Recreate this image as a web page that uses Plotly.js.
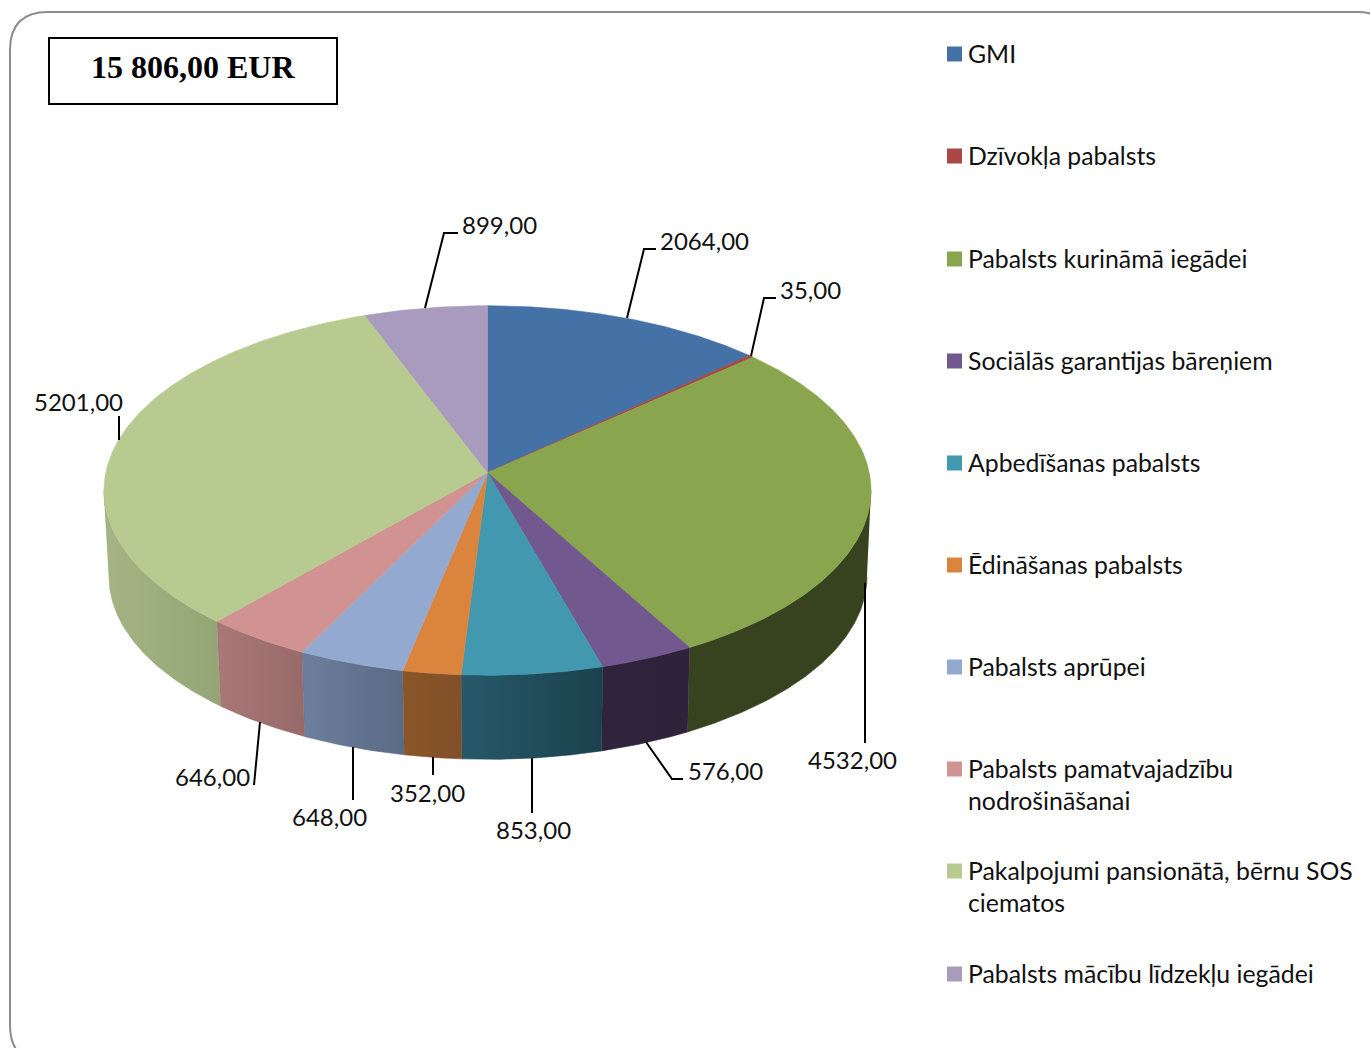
<!DOCTYPE html>
<html><head><meta charset="utf-8">
<script src="https://cdn.plot.ly/plotly-3.0.1.min.js"></script>
<style>html,body{margin:0;padding:0;background:#fff;overflow:hidden}</style>
</head><body><div id="chart" style="width:1370px;height:1048px"></div>
<script>
// ---- data ----
const categories = ["GMI","Dzīvokļa pabalsts","Pabalsts kurināmā iegādei","Sociālās garantijas bāreņiem","Apbedīšanas pabalsts","Ēdināšanas pabalsts","Pabalsts aprūpei","Pabalsts pamatvajadzību<br>nodrošināšanai","Pakalpojumi pansionātā, bērnu SOS<br>ciematos","Pabalsts mācību līdzekļu iegādei"];
const values = [2064,35,4532,576,853,352,648,646,5201,899];
const valueLabels = ["2064,00","35,00","4532,00","576,00","853,00","352,00","648,00","646,00","5201,00","899,00"];
const totalLabel = "15 806,00 EUR";
// ---- colours ----
const topColors = ["#4471a6","#aa4643","#89a54e","#71588f","#4198af","#db843d","#93a9cf","#d19392","#b7cb91","#a99bbd"];
const wallFrom  = ["#2a4464","#672a29","#37421e","#30243d","#27596a","#8a5628","#6c7f9c","#a97877","#a4b485","#665d72"];
const wallTo    = ["#2a4464","#672a29","#37421e","#2d233a","#1b414d","#80502a","#5b6a85","#966a69","#94a675","#665d72"];
// ---- projection of the disc (layout constants) ----
const CX=487.5, CY=472.5, A=381.7, B=183, P=0.0973, SHRINK=0.988, BOTTOM_Y=559;
function rim(deg){const t=deg*Math.PI/180,u=Math.sin(t),v=Math.cos(t),d=1+P*v;return [A*u/d,-B*v/d];}
const topPt=d=>{const r=rim(d);return [CX+r[0],CY+r[1]];};
const botPt=d=>{const r=rim(d);return [CX+SHRINK*r[0]+0.5,BOTTOM_Y+SHRINK*r[1]];};
const total=values.reduce((a,b)=>a+b,0);
const tangent=Math.acos(-P)*180/Math.PI;
function arc(a,b,f){const n=Math.max(2,Math.ceil((b-a)*2)),o=[];for(let i=0;i<=n;i++)o.push(f(a+(b-a)*i/n));return o;}
const traces=[], tops=[];
let acc=0;
values.forEach((val,i)=>{
  const a=acc/total*360, b=(acc+val)/total*360; acc+=val;
  const w0=Math.max(a,tangent), w1=Math.min(b,360-tangent);
  if(w1>w0){
    const pts=arc(w0,w1,topPt).concat(arc(w0,w1,botPt).reverse());
    traces.push({type:"scatter",mode:"lines",x:pts.map(p=>p[0]),y:pts.map(p=>p[1]),fill:"toself",
      line:{width:0.6,color:wallTo[i]},
      fillgradient:{type:"horizontal",colorscale:[[0,wallFrom[i]],[1,wallTo[i]]]},
      name:categories[i].replace("<br>"," "),text:valueLabels[i],hoverinfo:"name+text",showlegend:false});
  }
  const pts=[[CX,CY]].concat(arc(a,b,topPt));pts.push([CX,CY]);
  tops.push({type:"scatter",mode:"lines",x:pts.map(p=>p[0]),y:pts.map(p=>p[1]),fill:"toself",
    fillcolor:topColors[i],line:{width:0.6,color:topColors[i]},
    name:categories[i].replace("<br>"," "),text:valueLabels[i],hoverinfo:"name+text",showlegend:false});
});
// legend positions
const LEG_X=954.5, LEG_TXT=966, legendRows=[54,156,259,361,463,565,667,769,871,974];
traces.push(...tops);
traces.push({type:"scatter",mode:"markers",x:legendRows.map(()=>LEG_X),y:legendRows,
  marker:{symbol:"square",size:15,color:topColors},hoverinfo:"skip",showlegend:false});
const FONT="Lato, Carlito, sans-serif", FS=24, LEG_FS=24.8;
const annotations=categories.map((c,i)=>({x:LEG_TXT,y:legendRows[i]-17.5,xref:"x",yref:"y",text:c,showarrow:false,
  xanchor:"left",yanchor:"top",align:"left",font:{family:FONT,size:LEG_FS,color:"#111"}}));
// value labels: centre of each label
const labelPos=[[704,240],[810.5,289],[852,759],[725,770],[533,829],[427,792],[329,816],[212,776],[78.5,401],[499,224]];
valueLabels.forEach((t,i)=>annotations.push({x:labelPos[i][0],y:labelPos[i][1],xref:"x",yref:"y",text:t,showarrow:false,
  xanchor:"center",yanchor:"middle",font:{family:FONT,size:FS,color:"#111"}}));
annotations.push({x:193,y:67,xref:"x",yref:"y",text:"<b>"+totalLabel+"</b>",showarrow:false,xanchor:"center",yanchor:"middle",
  font:{family:"Liberation Serif, serif",size:32,color:"#000"}});
const leaders=[
 "M627,318L644,249L656,249","M751,356L764,298L776,298","M865,583L865,743","M646,742L672,779L683,779",
 "M532,758L532,813","M433,757L433,775","M353,747L353,800","M260,722L254,785","M119,440L119,416","M425,308L444,233L458,233"];
const shapes=leaders.map(p=>({type:"path",path:p,xref:"x",yref:"y",line:{color:"#000",width:2}}));
shapes.push({type:"rect",xref:"x",yref:"y",x0:49,y0:38,x1:337,y1:104,line:{color:"#000",width:2},fillcolor:"rgba(0,0,0,0)"});
shapes.push({type:"path",xref:"x",yref:"y",line:{color:"#8c8c8c",width:2},
  path:"M48,12L1357,12Q1395,12 1395,50L1395,1063L48,1063Q10,1063 10,1025L10,50Q10,12 48,12Z"});
const axis={range:[0,1370],visible:false,fixedrange:true};
Plotly.newPlot("chart",traces,{
  width:1370,height:1048,margin:{l:0,r:0,t:0,b:0,pad:0},paper_bgcolor:"#fff",plot_bgcolor:"#fff",showlegend:false,
  xaxis:axis,yaxis:{range:[1048,0],visible:false,fixedrange:true},annotations,shapes
},{displayModeBar:false});
</script></body></html>
